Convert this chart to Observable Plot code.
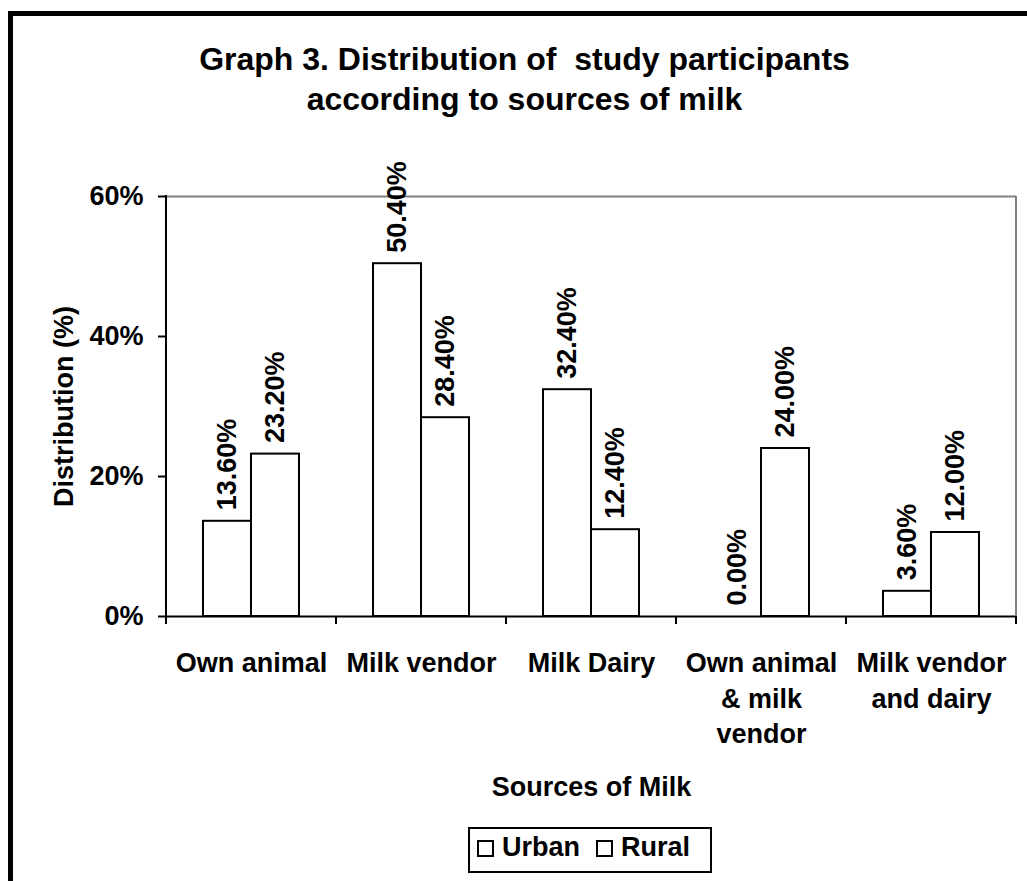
<!DOCTYPE html>
<html><head><meta charset="utf-8">
<script src="https://cdn.jsdelivr.net/npm/d3@7"></script>
<script src="https://cdn.jsdelivr.net/npm/@observablehq/plot@0.6"></script>
<style>
html,body{margin:0;padding:0;background:#fff;overflow:hidden;width:1027px;height:881px;}
body{position:relative;font-family:"Liberation Sans",Arial,Helvetica,sans-serif;font-weight:bold;color:#000;}
#outer{position:absolute;left:8px;top:11px;width:1100px;height:1000px;border:5px solid #000;box-sizing:border-box;}
#title{position:absolute;left:0;top:39px;width:1049px;text-align:center;font-size:32px;line-height:40px;white-space:pre;margin:0;font-weight:bold;}
#chart{position:absolute;left:0;top:150px;width:1027px;}
#legend{position:absolute;left:468px;top:827px;width:244px;height:46px;border:2px solid #000;box-sizing:border-box;display:flex;align-items:center;font-size:27px;padding:0 0 5px 7px;background:#fff;}
#legend .sw{width:17px;height:17px;border:2px solid #000;box-sizing:border-box;display:inline-block;position:relative;top:1px;background:#fff;}
#legend .lab{margin-left:8px;}
#legend .item + .item{margin-left:16px;}
#legend .item{display:flex;align-items:center;}
</style></head><body>
<div id="outer"></div>
<div id="title"></div>
<div id="chart"></div>
<div id="legend"></div>
<script>
const titleText = "Graph 3. Distribution of  study participants\naccording to sources of milk";
const categories = ["Own animal", "Milk vendor", "Milk Dairy", "Own animal & milk vendor", "Milk vendor and dairy"];
const tickLabels = ["Own animal", "Milk vendor", "Milk Dairy", "Own animal\n& milk\nvendor", "Milk vendor\nand dairy"];
const series = ["Urban", "Rural"];
const urban = [13.6, 50.4, 32.4, 0.0, 3.6];
const rural = [23.2, 28.4, 12.4, 24.0, 12.0];
const yTicks = [0, 20, 40, 60];
const yLabel = "Distribution (%)";
const xLabel = "Sources of Milk";

document.getElementById("title").textContent = titleText;

const data = categories.flatMap((c, i) => [
  {source: c, group: series[0], value: urban[i]},
  {source: c, group: series[1], value: rural[i]}
]);

const font = "'Liberation Sans', Arial, Helvetica, sans-serif";
const W = 1027, H = 650, ML = 165, MR = 11, MT = 46, MB = 184;

const chart = Plot.plot({
  width: W, height: H,
  marginLeft: ML, marginRight: MR, marginTop: MT, marginBottom: MB,
  style: {fontFamily: font, fontSize: "27px", fontWeight: "bold", color: "#000", background: "transparent", overflow: "visible"},
  fx: {domain: categories, padding: 0},
  x: {domain: series, paddingInner: 0, paddingOuter: 0.75, axis: null},
  y: {domain: [0, 60]},
  marks: [
    Plot.ruleY([60], {stroke: "#808080", strokeWidth: 2}),
    Plot.barY(data, {fx: "source", x: "group", y: "value", fill: "#fff", stroke: "#000", strokeWidth: 2}),
    Plot.ruleY([0], {stroke: "#000", strokeWidth: 2}),
    Plot.text(data, {fx: "source", x: "group", y: "value",
      text: d => d.value.toFixed(2) + "%",
      rotate: -90, textAnchor: "start", lineAnchor: "middle", dy: -11, fill: "#000"}),
    Plot.axisY({ticks: yTicks, tickFormat: d => d + "%", tickSize: 8, tickPadding: 15, strokeWidth: 2,
      label: yLabel, labelAnchor: "center", labelArrow: "none", labelOffset: 113}),
    Plot.axisFx({anchor: "bottom", tickSize: 0, tickPadding: 31, lineHeight: 1.3,
      tickFormat: d => tickLabels[categories.indexOf(d)],
      label: xLabel, labelAnchor: "center", labelArrow: "none", labelOffset: 179})
  ]
});

document.getElementById("chart").appendChild(chart);

// Frame lines and category-boundary ticks, placed through Plot's own scales
const fx = chart.scale("fx"), y = chart.scale("y");
const svg = d3.select(chart);
const g = svg.append("g").attr("fill", "none");
const x0 = fx.apply(categories[0]);
const xEnd = fx.apply(categories[categories.length - 1]) + fx.bandwidth;
const yBase = y.apply(0), yTop = y.apply(60);
g.append("line").attr("x1", xEnd).attr("x2", xEnd).attr("y1", yTop).attr("y2", yBase)
  .attr("stroke", "#808080").attr("stroke-width", 2);
g.append("line").attr("x1", x0).attr("x2", x0).attr("y1", yTop - 1).attr("y2", yBase + 1)
  .attr("stroke", "#000").attr("stroke-width", 2);
const bounds = categories.map(c => fx.apply(c)).concat([xEnd]);
g.selectAll("line.b").data(bounds).join("line").attr("class", "b")
  .attr("x1", d => d).attr("x2", d => d).attr("y1", yBase).attr("y2", yBase + 8)
  .attr("stroke", "#000").attr("stroke-width", 2);

// Legend
const leg = document.getElementById("legend");
series.forEach(s => {
  const item = document.createElement("span");
  item.className = "item";
  const sw = document.createElement("span"); sw.className = "sw";
  const lab = document.createElement("span"); lab.className = "lab"; lab.textContent = s;
  item.appendChild(sw); item.appendChild(lab);
  leg.appendChild(item);
});
</script>
</body></html>
